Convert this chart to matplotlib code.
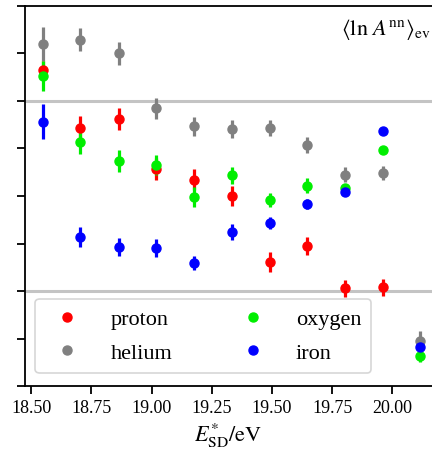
import numpy as np
import matplotlib
matplotlib.use("Agg")
import matplotlib.pyplot as plt
from matplotlib.lines import Line2D

plt.rcParams["font.family"] = ["Liberation Serif", "DejaVu Serif"]
plt.rcParams["mathtext.fontset"] = "stix"

# energy bins (lg E / eV)
energy = [18.55, 18.705, 18.865, 19.02, 19.175, 19.333, 19.49, 19.645, 19.803, 19.96, 20.115]

# <ln A^nn>_ev per primary, with uncertainties
proton = [4.65, 3.43, 3.62, 2.57, 2.34, 1.99, 0.62, 0.95, 0.06, 0.08, np.nan]
proton_err = [0.20, 0.25, 0.24, 0.23, 0.22, 0.21, 0.21, 0.19, 0.18, 0.18, np.nan]
helium = [5.20, 5.29, 5.00, 3.85, 3.47, 3.40, 3.43, 3.08, 2.45, 2.48, -1.05]
helium_err = [0.36, 0.24, 0.24, 0.22, 0.20, 0.19, 0.17, 0.17, 0.16, 0.15, 0.20]
oxygen = [4.53, 3.14, 2.74, 2.66, 1.97, 2.44, 1.92, 2.22, 2.16, 2.97, -1.36]
oxygen_err = [0.32, 0.25, 0.23, 0.21, 0.21, 0.18, 0.15, 0.15, 0.10, 0.06, 0.14]
iron = [3.56, 1.14, 0.93, 0.90, 0.59, 1.24, 1.43, 1.83, 2.08, 3.37, -1.17]
iron_err = [0.37, 0.21, 0.19, 0.19, 0.15, 0.17, 0.13, 0.10, 0.08, 0.05, 0.08]

series = [
    ("proton", proton, proton_err, "#ff0000"),
    ("helium", helium, helium_err, "#808080"),
    ("oxygen", oxygen, oxygen_err, "#00ee00"),
    ("iron", iron, iron_err, "#0000ff"),
]

fig = plt.figure(figsize=(4.32, 4.56), dpi=100)
ax = fig.add_axes([0.058, 0.151, 0.942, 0.834])

# reference lines: proton (ln 1) and iron (ln 56)
ax.axhline(0, color="#c4c4c4", lw=2.2, zorder=1)
ax.axhline(4, color="#c4c4c4", lw=2.2, zorder=1)

handles = []
for name, vals, errs, col in series:
    ax.errorbar(energy, vals, yerr=errs, fmt="o", color=col, ms=6.5, elinewidth=2.3,
                capsize=0, zorder=3)
    handles.append(Line2D([], [], marker="o", ls="none", color=col, ms=6.5, label=name))

ax.set_xlim(18.475, 20.164)
ax.set_ylim(-2, 6)
ax.set_yticks(range(-2, 7))
ax.set_yticklabels([])
ax.set_xticks([18.5, 18.75, 19.0, 19.25, 19.5, 19.75, 20.0])
ax.set_xticklabels(["18.50", "18.75", "19.00", "19.25", "19.50", "19.75", "20.00"])
ax.tick_params(direction="out", length=6, width=1.3, labelsize=13)
for s in ["left", "bottom", "top"]:
    ax.spines[s].set_linewidth(1.3)
ax.spines["right"].set_visible(False)

ax.set_xlabel(r"$E^{*}_{\mathrm{SD}}/\mathrm{eV}$", fontsize=16, labelpad=3)
ax.text(0.997, 0.94, r"$\langle \ln\,A^{\mathrm{nn}} \rangle_{\mathrm{ev}}$",
        transform=ax.transAxes, ha="right", va="center", fontsize=16)

leg = ax.legend(handles=handles, ncol=2, loc="lower left", bbox_to_anchor=(0.025, 0.034),
                borderaxespad=0, fontsize=16, handletextpad=0.95, columnspacing=2.6,
                handlelength=2.0, labelspacing=0.6, frameon=True, borderpad=0.45)
leg.get_frame().set_edgecolor("#cccccc")
leg.get_frame().set_linewidth(1.2)

fig.savefig("out.png", dpi=100)
